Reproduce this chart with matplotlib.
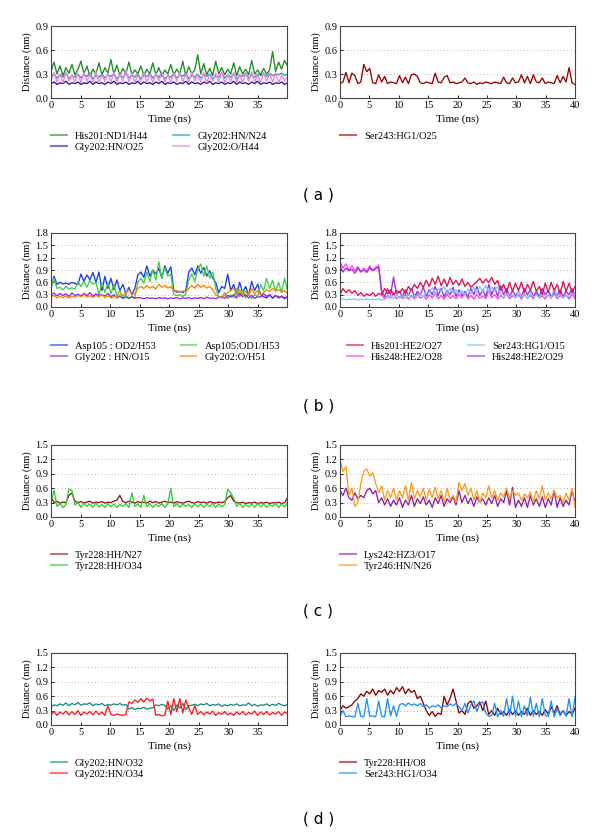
import numpy as np
import matplotlib
matplotlib.use("Agg")
import matplotlib.pyplot as plt

# ---- data (nm), sampled every ~0.5 ns over 0-40 ns, read off the figure ----
# (a) left
his201_nd1_h44 = [0.33,0.45,0.30,0.40,0.28,0.38,0.31,0.42,0.29,0.36,
                  0.46,0.30,0.40,0.27,0.36,0.30,0.44,0.29,0.38,0.31,
                  0.48,0.30,0.41,0.28,0.37,0.30,0.45,0.29,0.35,0.30,
                  0.40,0.28,0.36,0.30,0.44,0.29,0.38,0.27,0.35,0.30,
                  0.42,0.29,0.36,0.30,0.46,0.28,0.39,0.30,0.35,0.54,
                  0.30,0.43,0.29,0.37,0.28,0.46,0.30,0.38,0.29,0.36,
                  0.30,0.44,0.28,0.39,0.30,0.36,0.29,0.47,0.30,0.35,
                  0.29,0.37,0.30,0.35,0.58,0.33,0.45,0.36,0.47,0.40]
gly202_hn_n24 = [0.27,0.30,0.25,0.29,0.26,0.31,0.24,0.28,0.26,0.30,
                 0.25,0.29,0.27,0.31,0.24,0.28,0.26,0.30,0.25,0.29,
                 0.27,0.30,0.24,0.28,0.26,0.31,0.25,0.29,0.26,0.30,
                 0.24,0.28,0.27,0.30,0.25,0.29,0.26,0.31,0.24,0.28,
                 0.26,0.30,0.25,0.29,0.27,0.31,0.24,0.28,0.26,0.30,
                 0.25,0.29,0.27,0.30,0.24,0.28,0.26,0.31,0.25,0.29,
                 0.26,0.30,0.24,0.28,0.27,0.31,0.25,0.29,0.26,0.30,
                 0.28,0.30,0.27,0.31,0.28,0.30,0.29,0.31,0.28,0.30]
gly202_hn_o25 = [0.18,0.20,0.17,0.19,0.18,0.21,0.17,0.19,0.18,0.20,
                 0.17,0.19,0.18,0.21,0.17,0.20,0.18,0.19,0.17,0.20,
                 0.18,0.21,0.17,0.19,0.18,0.20,0.17,0.19,0.18,0.21,
                 0.17,0.20,0.18,0.19,0.17,0.20,0.18,0.21,0.17,0.19,
                 0.18,0.20,0.17,0.19,0.18,0.21,0.17,0.20,0.18,0.19,
                 0.17,0.20,0.18,0.21,0.17,0.19,0.18,0.20,0.17,0.19,
                 0.18,0.21,0.17,0.20,0.18,0.19,0.17,0.20,0.18,0.21,
                 0.17,0.19,0.18,0.20,0.17,0.19,0.18,0.20,0.17,0.19]
gly202_o_h44 = [0.22,0.32,0.20,0.30,0.19,0.33,0.21,0.29,0.20,0.31,
                0.19,0.32,0.21,0.30,0.20,0.33,0.19,0.29,0.21,0.31,
                0.20,0.32,0.19,0.30,0.21,0.35,0.20,0.31,0.19,0.29,
                0.21,0.32,0.20,0.30,0.19,0.31,0.21,0.33,0.20,0.29,
                0.19,0.31,0.21,0.32,0.20,0.30,0.19,0.33,0.21,0.29,
                0.20,0.32,0.19,0.30,0.21,0.31,0.20,0.33,0.19,0.29,
                0.21,0.32,0.20,0.30,0.19,0.31,0.21,0.33,0.20,0.29,
                0.19,0.32,0.21,0.30,0.20,0.31,0.19,0.28,0.21,0.27]
# (a) right
ser243_hg1_o25 = [0.18,0.20,0.32,0.19,0.31,0.28,0.18,0.20,0.42,0.33,
                  0.37,0.19,0.18,0.29,0.20,0.27,0.18,0.20,0.19,0.18,
                  0.28,0.19,0.26,0.18,0.29,0.30,0.27,0.19,0.18,0.20,
                  0.19,0.18,0.31,0.20,0.19,0.26,0.28,0.19,0.20,0.18,
                  0.19,0.20,0.25,0.19,0.18,0.20,0.17,0.19,0.18,0.20,
                  0.19,0.18,0.20,0.19,0.18,0.26,0.19,0.18,0.25,0.19,
                  0.20,0.29,0.19,0.27,0.18,0.29,0.20,0.19,0.25,0.18,
                  0.20,0.19,0.18,0.28,0.19,0.27,0.20,0.38,0.19,0.17]
# (b) left
asp105_od2_h53 = [0.45,0.75,0.55,0.60,0.56,0.58,0.55,0.60,0.57,0.55,
                  0.80,0.62,0.78,0.66,0.84,0.60,0.85,0.40,0.75,0.45,
                  0.70,0.42,0.66,0.40,0.55,0.32,0.48,0.30,0.45,0.78,
                  0.85,0.72,1.00,0.75,0.90,0.80,0.95,0.70,1.00,0.82,
                  0.98,0.40,0.36,0.38,0.35,0.40,0.85,0.95,0.78,1.00,
                  0.82,0.96,0.75,0.88,0.70,0.60,0.35,0.50,0.45,0.80,
                  0.40,0.55,0.30,0.60,0.35,0.50,0.28,0.62,0.40,0.55,
                  0.30,0.25,0.22,0.30,0.21,0.28,0.22,0.26,0.20,0.25]
asp105_od1_h53 = [0.50,0.70,0.45,0.48,0.42,0.50,0.44,0.47,0.43,0.62,
                  0.50,0.62,0.48,0.65,0.55,0.60,0.30,0.58,0.35,0.60,
                  0.32,0.55,0.28,0.40,0.22,0.30,0.20,0.25,0.22,0.60,
                  0.70,0.58,0.85,0.62,0.90,0.65,1.10,0.70,0.95,0.75,
                  0.80,0.30,0.28,0.30,0.25,0.32,0.65,0.80,0.62,0.90,
                  1.05,0.75,1.00,0.70,0.85,0.45,0.25,0.22,0.35,0.20,
                  0.30,0.22,0.45,0.25,0.40,0.22,0.35,0.20,0.30,0.25,
                  0.55,0.40,0.70,0.45,0.65,0.38,0.60,0.35,0.70,0.40]
gly202_hn_o15 = [0.30,0.34,0.27,0.33,0.28,0.32,0.26,0.34,0.28,0.31,
                 0.27,0.33,0.28,0.35,0.26,0.32,0.28,0.30,0.27,0.33,
                 0.25,0.30,0.22,0.26,0.21,0.24,0.22,0.25,0.21,0.23,
                 0.22,0.20,0.23,0.21,0.22,0.20,0.23,0.21,0.22,0.20,
                 0.22,0.21,0.23,0.20,0.22,0.21,0.23,0.20,0.22,0.21,
                 0.23,0.20,0.24,0.21,0.22,0.20,0.23,0.25,0.21,0.28,
                 0.24,0.30,0.22,0.34,0.25,0.30,0.22,0.28,0.21,0.25,
                 0.24,0.32,0.26,0.30,0.22,0.28,0.24,0.26,0.22,0.25]
gly202_o_h51 = [0.25,0.28,0.22,0.26,0.23,0.27,0.22,0.26,0.24,0.28,
                0.25,0.30,0.24,0.27,0.23,0.28,0.25,0.30,0.23,0.27,
                0.22,0.26,0.24,0.30,0.28,0.35,0.42,0.30,0.32,0.45,
                0.50,0.45,0.52,0.46,0.50,0.44,0.55,0.48,0.52,0.46,
                0.50,0.38,0.40,0.36,0.39,0.37,0.45,0.52,0.46,0.55,
                0.48,0.53,0.46,0.50,0.42,0.30,0.25,0.22,0.28,0.35,
                0.40,0.45,0.32,0.42,0.30,0.38,0.28,0.45,0.32,0.40,
                0.30,0.35,0.42,0.38,0.45,0.40,0.42,0.36,0.40,0.33]
# (b) right
his201_he2_o27 = [0.30,0.45,0.35,0.42,0.33,0.40,0.28,0.35,0.26,0.32,
                  0.28,0.35,0.26,0.33,0.30,0.45,0.32,0.42,0.30,0.40,
                  0.35,0.45,0.32,0.50,0.40,0.55,0.45,0.60,0.48,0.65,
                  0.50,0.70,0.55,0.75,0.52,0.68,0.50,0.72,0.55,0.65,
                  0.52,0.68,0.50,0.60,0.48,0.55,0.62,0.70,0.58,0.68,
                  0.60,0.72,0.55,0.65,0.40,0.55,0.35,0.60,0.38,0.58,
                  0.40,0.60,0.35,0.55,0.42,0.62,0.38,0.50,0.30,0.58,
                  0.35,0.60,0.40,0.55,0.32,0.62,0.38,0.58,0.35,0.50]
his248_he2_o28 = [1.10,0.95,1.05,0.90,1.00,0.88,0.98,0.86,0.95,0.88,
                  1.00,0.90,0.96,1.02,
                  0.30,0.20,0.28,0.22,0.32,0.20,0.26,0.21,0.30,0.19,
                  0.28,0.20,0.33,0.21,0.27,0.19,0.30,0.22,0.35,0.20,
                  0.28,0.19,0.32,0.21,0.27,0.20,0.30,0.22,0.34,0.20,
                  0.28,0.19,0.31,0.21,0.27,0.20,0.40,0.22,0.30,0.19,
                  0.28,0.21,0.33,0.20,0.27,0.22,0.30,0.19,0.32,0.21,
                  0.28,0.20,0.35,0.22,0.27,0.19,0.30,0.21,0.33,0.20,
                  0.28,0.22,0.30,0.19,0.32,0.21]
ser243_hg1_o15 = [0.18,0.20,0.17,0.19,0.18,0.20,0.17,0.19,0.18,0.20,
                  0.17,0.19,0.18,0.20,0.17,0.19,
                  0.22,0.28,0.20,0.30,0.22,0.27,0.21,0.30,0.24,0.28,
                  0.22,0.32,0.25,0.35,
                  0.35,0.48,0.30,0.45,0.38,0.50,0.32,0.46,0.35,0.42,
                  0.30,0.40,0.28,0.44,0.32,0.48,0.35,0.50,0.38,0.52,
                  0.35,0.48,0.40,0.50,
                  0.30,0.22,0.35,0.25,0.30,0.22,0.38,0.25,0.32,0.20,
                  0.35,0.24,0.30,0.22,0.36,0.25,0.30,0.22,0.45,0.25,
                  0.32,0.22,0.30,0.25,0.35,0.28]
his248_he2_o29 = [1.00,0.85,0.95,0.88,0.92,0.82,0.95,0.85,0.90,0.84,
                  0.95,0.88,0.93,0.97,
                  0.40,0.25,0.45,0.30,0.73,0.30,0.38,0.25,0.42,0.28,
                  0.45,0.25,0.38,0.30,0.48,0.26,0.42,0.30,0.50,0.28,
                  0.45,0.25,0.40,0.30,0.48,0.26,0.42,0.28,0.38,0.25,
                  0.45,0.30,0.50,0.28,0.42,0.25,0.55,0.30,0.48,0.26,
                  0.52,0.30,0.45,0.25,0.40,0.28,0.38,0.25,0.45,0.30,
                  0.42,0.26,0.38,0.25,0.45,0.30,0.40,0.25,0.38,0.28,
                  0.42,0.25,0.38,0.30,0.45,0.28]
# (c) left
tyr228_hh_n27 = [0.42,0.30,0.33,0.29,0.31,0.30,0.45,0.50,0.33,0.30,
                 0.32,0.29,0.31,0.33,0.29,0.31,0.30,0.32,0.29,0.31,
                 0.30,0.33,0.35,0.45,0.32,0.30,0.33,0.31,0.29,0.32,
                 0.30,0.31,0.29,0.33,0.30,0.32,0.29,0.31,0.33,0.30,
                 0.31,0.29,0.32,0.30,0.29,0.31,0.33,0.30,0.29,0.32,
                 0.30,0.31,0.29,0.32,0.30,0.29,0.31,0.30,0.32,0.40,
                 0.45,0.33,0.30,0.29,0.31,0.28,0.30,0.29,0.31,0.28,
                 0.30,0.29,0.31,0.28,0.30,0.29,0.31,0.28,0.30,0.40]
tyr228_hh_o34 = [0.30,0.56,0.22,0.28,0.20,0.26,0.58,0.55,0.25,0.30,
                 0.20,0.28,0.22,0.27,0.20,0.29,0.21,0.26,0.20,0.28,
                 0.21,0.27,0.20,0.26,0.22,0.28,0.20,0.50,0.22,0.27,
                 0.20,0.45,0.21,0.28,0.20,0.26,0.22,0.28,0.20,0.27,
                 0.60,0.21,0.28,0.20,0.27,0.22,0.26,0.20,0.28,0.21,
                 0.27,0.20,0.26,0.22,0.28,0.20,0.27,0.21,0.26,0.58,
                 0.50,0.40,0.22,0.28,0.20,0.26,0.21,0.27,0.20,0.28,
                 0.21,0.27,0.20,0.26,0.22,0.28,0.20,0.27,0.21,0.30]
# (c) right
lys242_hz3_o17 = [0.55,0.45,0.60,0.40,0.35,0.50,0.38,0.45,0.40,0.55,
                  0.60,0.48,0.55,0.30,0.40,0.25,0.38,0.22,0.35,0.25,
                  0.40,0.20,0.35,0.25,0.45,0.22,0.38,0.28,0.42,0.25,
                  0.35,0.20,0.40,0.28,0.45,0.22,0.38,0.30,0.42,0.25,
                  0.55,0.30,0.45,0.28,0.40,0.22,0.42,0.30,0.38,0.25,
                  0.40,0.28,0.45,0.22,0.38,0.30,0.55,0.25,0.62,0.20,
                  0.35,0.22,0.40,0.20,0.45,0.25,0.38,0.22,0.42,0.20,
                  0.38,0.25,0.55,0.20,0.40,0.22,0.35,0.25,0.55,0.30]
tyr246_hn_n26 = [1.20,0.95,1.05,0.45,0.60,0.22,0.30,0.70,0.95,1.00,
                 0.85,0.92,0.70,0.50,0.65,0.35,0.55,0.40,0.60,0.35,
                 0.55,0.40,0.65,0.35,0.72,0.38,0.55,0.42,0.60,0.35,
                 0.58,0.40,0.62,0.38,0.55,0.30,0.60,0.35,0.45,0.30,
                 0.72,0.55,0.70,0.45,0.60,0.35,0.55,0.30,0.50,0.40,
                 0.65,0.40,0.55,0.35,0.50,0.42,0.60,0.38,0.55,0.45,
                 0.50,0.35,0.48,0.40,0.52,0.30,0.55,0.38,0.65,0.35,
                 0.50,0.38,0.55,0.40,0.45,0.30,0.50,0.35,0.60,0.22]
# (d) left
gly202_hn_o32 = [0.38,0.42,0.40,0.44,0.41,0.46,0.40,0.45,0.42,0.47,
                 0.41,0.44,0.43,0.46,0.40,0.44,0.42,0.45,0.40,0.43,
                 0.41,0.44,0.42,0.45,0.41,0.43,
                 0.33,0.36,0.32,0.35,0.34,0.37,0.33,0.35,0.36,
                 0.42,0.40,0.43,0.41,
                 0.33,0.40,0.30,0.42,0.35,0.45,0.32,0.40,
                 0.41,0.43,0.40,0.44,0.42,0.45,0.40,0.43,0.41,0.44,
                 0.39,0.42,0.40,0.43,0.41,0.44,0.40,0.42,0.41,0.46,
                 0.40,0.43,0.39,0.42,0.41,0.44,0.40,0.43,0.41,0.45,
                 0.42,0.40,0.43]
gly202_hn_o34 = [0.22,0.28,0.20,0.27,0.23,0.29,0.21,0.28,0.22,0.30,
                 0.20,0.27,0.23,0.28,0.21,0.29,0.22,0.27,0.20,0.40,
                 0.22,0.20,0.23,0.21,0.20,0.22,
                 0.48,0.45,0.52,0.47,0.55,0.48,0.56,0.50,0.54,
                 0.20,0.22,0.19,0.21,
                 0.50,0.22,0.55,0.28,0.55,0.25,0.52,
                 0.35,0.22,0.40,
                 0.22,0.28,0.21,0.27,0.23,0.29,0.20,0.26,0.22,0.28,
                 0.21,0.25,0.20,0.27,0.22,0.28,0.21,0.26,0.23,0.29,
                 0.20,0.27,0.22,0.28,0.21,0.26,0.23,0.28,0.20,0.27,
                 0.24]
# (d) right
tyr228_hh_o8 = [0.30,0.40,0.35,0.38,0.42,0.50,0.55,0.65,0.60,0.70,
                0.65,0.75,0.62,0.72,0.68,0.75,0.62,0.72,0.65,0.78,
                0.70,0.80,0.65,0.75,0.68,0.72,0.55,0.60,0.45,0.30,
                0.20,0.28,0.18,0.25,0.22,0.60,0.42,0.55,0.75,0.50,
                0.25,0.30,0.22,0.45,0.50,0.35,0.40,0.48,0.30,0.50,
                0.22,0.30,0.20,0.35,0.22,0.28,0.20,0.32,0.22,0.30,
                0.20,0.28,0.22,0.35,0.20,0.30,0.22,0.28,0.20,0.32,
                0.22,0.38,0.25,0.40,0.22,0.30,0.20,0.28,0.22,0.35]
ser243_hg1_o34 = [0.18,0.30,0.17,0.19,0.18,0.17,0.45,0.18,0.17,0.55,
                  0.18,0.19,0.17,0.50,0.18,0.17,0.55,0.19,0.40,0.18,
                  0.42,0.45,0.40,0.46,0.41,0.44,0.40,0.45,0.38,0.42,
                  0.35,0.40,0.38,0.42,0.36,0.40,0.38,0.44,0.40,0.45,
                  0.38,0.30,0.45,0.25,0.42,0.50,0.28,0.45,0.48,0.25,
                  0.18,0.20,0.45,0.17,0.30,0.18,0.55,0.19,0.60,0.18,
                  0.50,0.17,0.40,0.19,0.58,0.18,0.45,0.17,0.55,0.20,
                  0.18,0.50,0.17,0.35,0.19,0.30,0.18,0.55,0.17,0.58]

panels = [
    # (series, labels, colours, ymax, full x range?, legend x)
    ([his201_nd1_h44, gly202_hn_n24, gly202_hn_o25, gly202_o_h44],
     ["His201:ND1/H44", "Gly202:HN/N24", "Gly202:HN/O25", "Gly202:O/H44"],
     ["#1e8c1e", "#20a0a0", "#1c1ca0", "#f07cf0"], 0.9, False, 0.0),
    ([ser243_hg1_o25], ["Ser243:HG1/O25"], ["#990000"], 0.9, True, 0.0),
    ([asp105_od2_h53, asp105_od1_h53, gly202_hn_o15, gly202_o_h51],
     ["Asp105 : OD2/H53", "Asp105:OD1/H53", "Gly202 : HN/O15", "Gly202:O/H51"],
     ["#1f3cf0", "#40d040", "#8a2be2", "#ff8000"], 1.8, False, 0.0),
    ([his201_he2_o27, ser243_hg1_o15, his248_he2_o28, his248_he2_o29],
     ["His201:HE2/O27", "Ser243:HG1/O15", "His248:HE2/O28", "His248:HE2/O29"],
     ["#e0104a", "#80c4ff", "#ff40e0", "#9a30e8"], 1.8, True, 0.03),
    ([tyr228_hh_n27, tyr228_hh_o34], ["Tyr228:HH/N27", "Tyr228:HH/O34"],
     ["#8b1a1a", "#33cc33"], 1.5, False, 0.0),
    ([lys242_hz3_o17, tyr246_hn_n26], ["Lys242:HZ3/O17", "Tyr246:HN/N26"],
     ["#8e1f9e", "#ff9a1a"], 1.5, True, 0.0),
    ([gly202_hn_o32, gly202_hn_o34], ["Gly202:HN/O32", "Gly202:HN/O34"],
     ["#178f80", "#ff1a1a"], 1.5, False, 0.0),
    ([tyr228_hh_o8, ser243_hg1_o34], ["Tyr228:HH/O8", "Ser243:HG1/O34"],
     ["#8b0000", "#1e90ff"], 1.5, True, 0.0),
]

# drawing order inside each panel (legend keeps the listed order)
draw_order = [[0, 1, 2, 3], [0], [0, 1, 2, 3], [2, 3, 1, 0],
              [0, 1], [0, 1], [0, 1], [0, 1]]

plt.rcParams['font.family'] = ['Liberation Serif', 'DejaVu Serif']
fig = plt.figure(figsize=(6, 8.36), dpi=100)

W, H = 600, 836
rows_px = [(26, 98), (233, 307), (445, 517), (653, 725)]
cols_px = [(51, 287), (340, 575)]

for k, (series, labels, colors, ymax, full, legx) in enumerate(panels):
    r, c = divmod(k, 2)
    top, bot = rows_px[r]
    x0, x1 = cols_px[c]
    ax = fig.add_axes([x0 / W, 1 - bot / H, (x1 - x0) / W, (bot - top) / H])
    lines = {}
    for i in draw_order[k]:
        vals = series[i]
        t = np.linspace(0, 40, len(vals))
        lines[i], = ax.plot(t, vals, color=colors[i], lw=0.95, label=labels[i])
    ax.set_xlim(0, 40 if full else 39.9)
    ax.set_ylim(0, ymax)
    ax.set_xticks(np.arange(0, 41 if full else 36, 5))
    yt = np.arange(0, ymax + 0.01, 0.3)
    ax.set_yticks(yt)
    ax.set_yticklabels([f"{v:.1f}" for v in yt])
    for v in yt[1:]:
        ax.axhline(v, color="#999999", lw=0.6, ls=(0, (1, 3)), zorder=0)
    ax.tick_params(labelsize=7.5, length=2, width=0.6, direction="in", pad=2,
                   top=False, right=False)
    for s in ax.spines.values():
        s.set_color("#444444")
        s.set_linewidth(0.8)
    ax.set_xlabel("Time (ns)", fontsize=8, labelpad=3)
    ax.set_ylabel("Distance (nm)", fontsize=7.5, labelpad=2)

    n = len(series)
    if n == 4:
        order = [0, 2, 1, 3]
        ncol = 2
    else:
        order = list(range(n))
        ncol = 1
    leg = ax.legend([lines[i] for i in order], [labels[i] for i in order],
                    loc="upper left", bbox_to_anchor=(legx, -0.47), ncol=ncol,
                    frameon=False, fontsize=7.5, handlelength=1.5,
                    handletextpad=0.8, labelspacing=0.15, columnspacing=2.4,
                    borderpad=0, borderaxespad=0)
    for h in leg.get_lines():
        h.set_alpha(0.6)
        h.set_linewidth(1.5)

for lab, ypx in zip(["( a )", "( b )", "( c )", "( d )"], [195, 406, 611, 819]):
    fig.text(303 / W, 1 - ypx / H, lab, ha="left", va="center",
             fontsize=11, family=["DejaVu Sans"])

fig.savefig("out.png", dpi=100)
